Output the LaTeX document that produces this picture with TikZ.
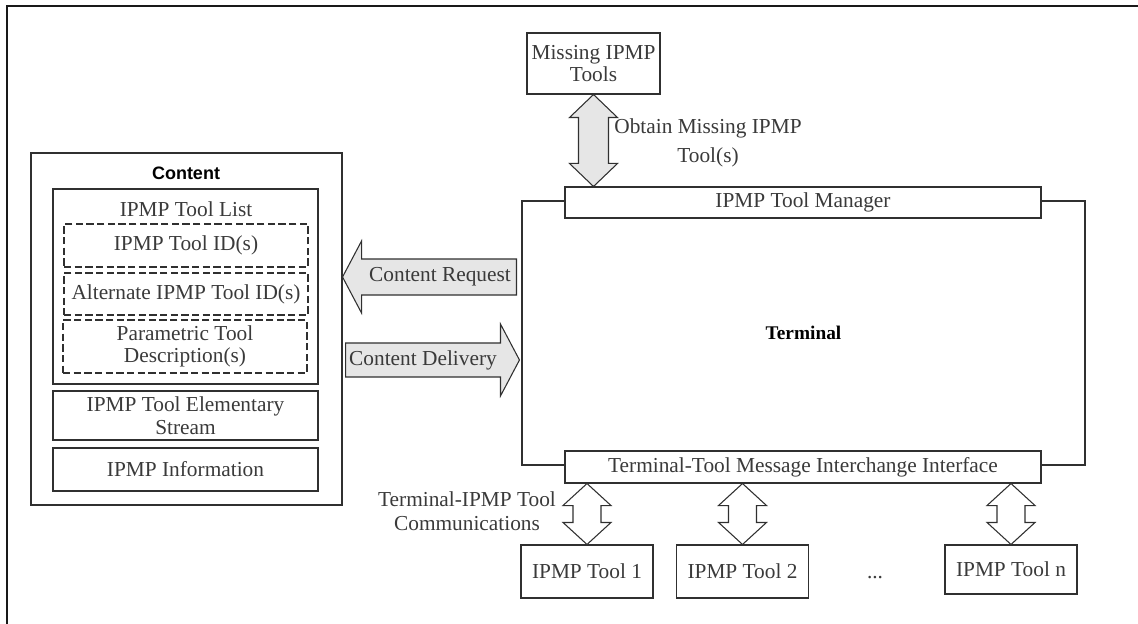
\documentclass[tikz,border=0pt]{standalone}
\usepackage{fontspec}
\setmainfont{Liberation Serif}
\newfontfamily\titlefont{Liberation Sans}
\usepackage{tikz}
\usetikzlibrary{calc,positioning}
\definecolor{lineGray}{HTML}{303030}
\definecolor{textGray}{HTML}{3A3A3A}
\definecolor{arrowFill}{HTML}{E6E6E6}
\newcommand{\boxfont}{\fontsize{16}{17}\selectfont}
\tikzstyle{plainText} = [inner sep = 0pt, align = center, font = \boxfont, text = textGray]
\tikzstyle{stdBox} = [plainText, shape = rectangle, draw = lineGray, line width = 0.8pt]
\tikzstyle{dashBox} = [stdBox, dash pattern = on 5.5pt off 2.5pt, minimum width = 183pt]
\tikzstyle{innerBox} = [stdBox, minimum width = 198.75pt]
\tikzstyle{barBox} = [stdBox, fill = white, minimum width = 357pt]
\tikzstyle{toolBox} = [stdBox, minimum width = 99pt]
\tikzstyle{frameLine} = [draw = black!90, line width = 1.1pt]
\tikzstyle{grayArrow} = [draw = lineGray, line width = 0.8pt, fill = arrowFill, line join = miter]
\tikzstyle{whiteArrow} = [grayArrow, fill = white]
% vertical double block arrow: style, top tip, bottom tip, head half width, body half width, head length
\newcommand{\vdouble}[6]{%
	\draw[#1] (#2) -- ++(#4,#6) -- ++(-#4+#5,0) -- ($(#3)+(#5,-#6)$) -- ++(#4-#5,0) -- (#3)
		-- ++(-#4,-#6) -- ++(#4-#5,0) -- ($(#2)+(-#5,#6)$) -- ++(-#4+#5,0) -- cycle;
}
\begin{document}
\begin{tikzpicture}[x=0.75pt, y=-0.75pt]
	\useasboundingbox (0,0) rectangle (1138,624);
	\draw[frameLine] (7,640) -- (7,6) -- (1150,6);

	\node (content) at (186.5,329) [stdBox, minimum width = 233.25pt, minimum height = 264pt] {};
	\node (contentLbl) at (186,173) [plainText, text = black, font = \titlefont\bfseries\fontsize{13.5}{15}\selectfont] {Content};
	\node (toolList) at (185.5,286.5) [innerBox, minimum height = 146.25pt] {};
	\node (toolListLbl) at (186,209) [plainText] {IPMP Tool List};
	\node (toolIds) at (186,245.5) [dashBox, minimum height = 32.25pt] {IPMP Tool ID(s)};
	\node (altIds) at (186,294) [dashBox, minimum height = 31.5pt] {Alternate IPMP Tool ID(s)};
	\node (paramDesc) at (185,346.5) [dashBox, minimum height = 39.75pt] {Parametric Tool\\Description(s)};
	\node (elemStream) at (185.5,415.5) [innerBox, minimum height = 36.75pt] {IPMP Tool Elementary\\Stream};
	\node (ipmpInfo) at (185.5,469.5) [innerBox, minimum height = 32.25pt] {IPMP Information};

	\node (terminal) at (803.5,333) [stdBox, minimum width = 422.25pt, minimum height = 198pt, text = black, font = \bfseries\fontsize{14.5}{16}\selectfont] {Terminal};
	\node (manager) at (803,202.5) [barBox, minimum height = 23.25pt] {IPMP Tool Manager};
	\node (iface) at (803,467) [barBox, minimum height = 24pt] {Terminal-Tool Message Interchange Interface};

	\node (missing) at (593.5,63.5) [stdBox, minimum width = 99.75pt, minimum height = 45.75pt] {Missing IPMP\\Tools};
	\node (obtainLbl) at (708,142.5) [plainText, font = \fontsize{16}{21.75}\selectfont] {Obtain Missing IPMP\\Tool(s)};

	\node (tool1) at (587,571.5) [toolBox, minimum height = 39.75pt] {IPMP Tool 1};
	\node (tool2) at (742.5,571.5) [toolBox, minimum height = 39.75pt] {IPMP Tool 2};
	\node (toolDots) at (875,578) [plainText] {...};
	\node (toolN) at (1011,569.5) [toolBox, minimum height = 36.75pt] {IPMP Tool n};
	\node (commLbl) at (467,511) [plainText, font = \fontsize{16}{18}\selectfont] {Terminal-IPMP Tool\\Communications};

	\coordinate (obtainTop) at (missing.south);
	\coordinate (obtainBot) at (missing.south |- manager.north);
	\vdouble{grayArrow}{obtainTop}{obtainBot}{24}{15}{23}

	\coordinate (comm1Top) at (tool1.north |- iface.south);
	\coordinate (comm2Top) at (tool2.north |- iface.south);
	\coordinate (commNTop) at (toolN.north |- iface.south);
	\vdouble{whiteArrow}{comm1Top}{tool1.north}{24}{14}{22}
	\vdouble{whiteArrow}{comm2Top}{tool2.north}{24}{14}{22}
	\vdouble{whiteArrow}{commNTop}{toolN.north}{24}{14}{22}

	\coordinate (reqMid) at (440,277);
	\coordinate (delMid) at (423,360);
	\draw[grayArrow] (content.east |- reqMid) -- ++(19,-36) -- ++(0,18) -- ($(terminal.west |- reqMid)+(-5,-18)$)
		-- ++(0,36) -- ($(content.east |- reqMid)+(19,18)$) -- ++(0,18) -- cycle;
	\draw[grayArrow] ($(content.east |- delMid)+(3,-17)$) -- ($(terminal.west |- delMid)+(-21,-17)$) -- ++(0,-19)
		-- ($(terminal.west |- delMid)+(-2,0)$) -- ++(-19,36) -- ++(0,-19) -- ($(content.east |- delMid)+(3,17)$) -- cycle;
	\node (reqLbl) at (reqMid) [plainText] {Content Request};
	\node (delLbl) at (delMid) [plainText] {Content Delivery};
\end{tikzpicture}
\end{document}
